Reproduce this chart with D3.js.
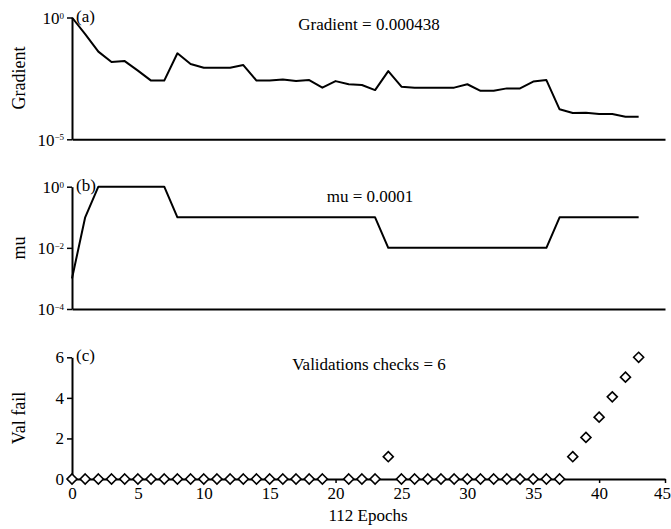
<!DOCTYPE html>
<html><head><meta charset="utf-8">
<script src="https://cdn.jsdelivr.net/npm/d3@7"></script>
<style>body{margin:0;background:#fff}svg{display:block}text{font-family:"Liberation Serif","Times New Roman",serif;fill:#000}</style>
</head><body><svg id="c" width="671" height="529"></svg>
<script>
const epochs = d3.range(0, 44);
const gradient = [1, 0.209, 0.0398, 0.0148, 0.0162, 0.0066, 0.00257, 0.00257, 0.0339, 0.0123,
  0.0087, 0.0087, 0.0087, 0.0112, 0.00257, 0.00257, 0.00288, 0.00245, 0.00269, 0.00132,
  0.00245, 0.00182, 0.0017, 0.00105, 0.0063, 0.00145, 0.00132, 0.00132, 0.00132, 0.00132,
  0.00182, 0.00098, 0.00098, 0.00123, 0.00123, 0.00234, 0.00269, 0.00017, 0.00012, 0.000123,
  0.00011, 0.00011, 0.000085, 0.000085];
const mu = [0.001, 0.1, 1, 1, 1, 1, 1, 1, 0.1, 0.1,
  0.1, 0.1, 0.1, 0.1, 0.1, 0.1, 0.1, 0.1, 0.1, 0.1,
  0.1, 0.1, 0.1, 0.1, 0.01, 0.01, 0.01, 0.01, 0.01, 0.01,
  0.01, 0.01, 0.01, 0.01, 0.01, 0.01, 0.01, 0.1, 0.1, 0.1,
  0.1, 0.1, 0.1, 0.1];
const valEpochs = [0,1,2,3,4,5,6,7,8,9,10,11,12,13,14,15,16,17,18,19,21,22,23,24,25,26,27,28,29,30,31,32,33,34,35,36,37,38,39,40,41,42,43];
const valFail = [0,0,0,0,0,0,0,0,0,0,0,0,0,0,0,0,0,0,0,0,0,0,0,1.1,0,0,0,0,0,0,0,0,0,0,0,0,0,1.1,2.05,3.05,4.05,5.02,6];
const xTicks = [0,5,10,15,20,25,30,35,40,45];
const gradTicks = [1, 1e-5], gradExp = ["0", "\u22125"];
const muTicks = [1, 1e-2, 1e-4], muExp = ["0", "\u22122", "\u22124"];
const valTicks = [0,2,4,6];

const svg = d3.select("#c");
const x = d3.scaleLinear().domain([0,45]).range([72,665]);
const ya = d3.scaleLog().domain([1e-5,1]).range([139.3,17.5]);
const yb = d3.scaleLog().domain([1e-4,1]).range([309,186.7]);
const yc = d3.scaleLinear().domain([0,6]).range([479,357.3]);

function styleAxis(g){
  g.attr("font-family",null);
  g.select(".domain").attr("stroke","#000").attr("stroke-width",2);
  g.selectAll(".tick line").attr("stroke","#000").attr("stroke-width",1.5);
  g.selectAll(".tick text").attr("font-size",17).attr("fill","#000");
}
function logAxis(y, ticks, exps){
  const g = svg.append("g").attr("transform","translate(72,0)")
    .call(d3.axisLeft(y).tickValues(ticks).tickSize(5).tickSizeOuter(0).tickPadding(7).tickFormat(""));
  styleAxis(g);
  g.selectAll(".tick").each(function(d,i){
    const t = d3.select(this).append("text").attr("x",-8).attr("dy","0.35em").attr("text-anchor","end")
      .attr("font-size",17);
    t.append("tspan").text("10");
    t.append("tspan").attr("dy","-0.6em").attr("font-size",9).text(exps[i]);
  });
  return g;
}
function bottomLine(y0){
  const g = svg.append("g").attr("transform",`translate(0,${y0})`)
    .call(d3.axisBottom(x).tickValues([]).tickSizeOuter(0));
  styleAxis(g);
}

// Panel (a)
bottomLine(139.3);
logAxis(ya, gradTicks, gradExp);
svg.append("path").datum(epochs)
  .attr("fill","none").attr("stroke","#000").attr("stroke-width",2).attr("stroke-linejoin","round")
  .attr("d", d3.line().x(i=>x(i)).y(i=>ya(gradient[i])));
svg.append("text").attr("x",76).attr("y",22).attr("font-size",17).text("(a)");
svg.append("text").attr("x",369).attr("y",30).attr("text-anchor","middle").attr("font-size",17).text("Gradient = 0.000438");
svg.append("text").attr("transform","translate(25,78) rotate(-90)").attr("text-anchor","middle").attr("font-size",18).text("Gradient");

// Panel (b)
bottomLine(309);
logAxis(yb, muTicks, muExp);
svg.append("path").datum(epochs)
  .attr("fill","none").attr("stroke","#000").attr("stroke-width",2).attr("stroke-linejoin","round")
  .attr("d", d3.line().x(i=>x(i)).y(i=>yb(mu[i])));
svg.append("text").attr("x",76).attr("y",191).attr("font-size",17).text("(b)");
svg.append("text").attr("x",370).attr("y",202).attr("text-anchor","middle").attr("font-size",17).text("mu = 0.0001");
svg.append("text").attr("transform","translate(25,248) rotate(-90)").attr("text-anchor","middle").attr("font-size",18).text("mu");

// Panel (c)
const gx = svg.append("g").attr("transform","translate(0,479)")
  .call(d3.axisBottom(x).tickValues(xTicks).tickSize(4).tickSizeOuter(0).tickPadding(4).tickFormat(d3.format("d")));
styleAxis(gx);
gx.selectAll(".tick text").filter(d=>d===45).attr("dx",-3);
const gy = svg.append("g").attr("transform","translate(72,0)")
  .call(d3.axisLeft(yc).tickValues(valTicks).tickSize(5).tickSizeOuter(0).tickPadding(3).tickFormat(d3.format("d")));
styleAxis(gy);
svg.append("g").selectAll("path").data(valEpochs).join("path")
  .attr("d", d3.symbol().type(d3.symbolDiamond2).size(64)())
  .attr("transform",(d,i)=>`translate(${x(d)},${yc(valFail[i])})`)
  .attr("fill","#fff").attr("stroke","#000").attr("stroke-width",1.6);
svg.append("text").attr("x",76).attr("y",361).attr("font-size",17).text("(c)");
svg.append("text").attr("x",369).attr("y",370).attr("text-anchor","middle").attr("font-size",17).text("Validations checks = 6");
svg.append("text").attr("transform","translate(25,418) rotate(-90)").attr("text-anchor","middle").attr("font-size",18).text("Val fail");
svg.append("text").attr("x",368).attr("y",521).attr("text-anchor","middle").attr("font-size",17).text("112 Epochs");
</script></body></html>
